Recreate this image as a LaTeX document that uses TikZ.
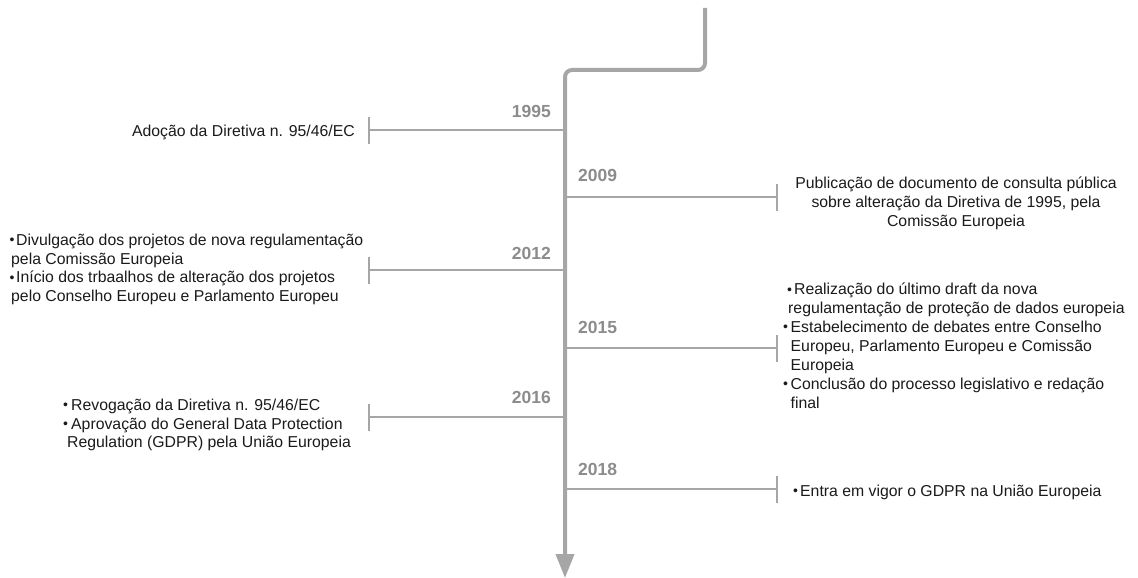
\documentclass[tikz,border=0pt]{standalone}
\usepackage{fontspec}
\setmainfont{Liberation Sans}
\usetikzlibrary{arrows.meta}
\definecolor{linegray}{HTML}{A6A6A6}
\definecolor{yeargray}{HTML}{8C8C8C}
\definecolor{txt}{HTML}{1A1A1A}
\tikzset{
  spine/.style={draw=linegray, line width=4pt},
  branch/.style={draw=linegray, line width=1.6pt},
  tick/.style={draw=linegray, line width=1.3pt},
  year/.style={text=yeargray, font=\fontsize{17.5}{20}\selectfont\bfseries, inner sep=0pt},
  desc/.style={text=txt, font=\fontsize{15.8}{18.6}\selectfont, inner sep=0pt},
}
\newcommand{\bul}[1]{\makebox[#1][l]{\raisebox{0.7pt}{\fontsize{14}{14}\selectfont\textbullet}}}
\begin{document}
\begin{tikzpicture}[x=1pt,y=-1pt]
\useasboundingbox (0,0) rectangle (1138,578);
% spine
\coordinate (top) at (705,8);
\coordinate (c1) at (705,70);
\coordinate (c2) at (565,70);
\coordinate (bot) at (565,578);
\draw[spine, rounded corners=7pt, -{Triangle[width=18pt,length=24pt]}] (top) -- (c1) -- (c2) -- (bot);
% branch coordinates
\foreach \n/\y/\e in {a/130/369, b/197/777, c/270/369, d/348/777, e/417/369, f/489/777}{
  \coordinate (s\n) at (565,\y);
  \coordinate (t\n) at (\e,\y);
  \coordinate (u\n) at (\e,\y-13);
  \coordinate (l\n) at (\e,\y+14);
  \draw[branch] (s\n) -- (t\n);
  \draw[tick] (u\n) -- (l\n);
}
% years
\node[year, anchor=east] (y1995) at (551,111) {1995};
\node[year, anchor=west] (y2009) at (578,175) {2009};
\node[year, anchor=east] (y2012) at (551,253) {2012};
\node[year, anchor=west] (y2015) at (578,327) {2015};
\node[year, anchor=east] (y2016) at (551,397) {2016};
\node[year, anchor=west] (y2018) at (578,469) {2018};
% descriptions
\node[desc, anchor=east] (d1995) at (355,132) {Adoção da Diretiva n. 95/46/EC};
\node[desc, anchor=north, align=center] (d2009) at (956,177) {Publicação de documento de consulta pública\\sobre alteração da Diretiva de 1995, pela\\Comissão Europeia};
\node[desc, anchor=north west, align=left] (d2012) at (9.5,234) {\bul{6.5pt}Divulgação dos projetos de nova regulamentação\\\hspace*{1.5pt}pela Comissão Europeia\\\bul{6.5pt}Início dos trbaalhos de alteração dos projetos\\\hspace*{1.5pt}pelo Conselho Europeu e Parlamento Europeu};
\node[desc, anchor=north west, align=left, font=\fontsize{15.8}{18.9}\selectfont] (d2015) at (783,283) {\hspace*{4pt}\bul{7pt}Realização do último draft da nova\\\hspace*{5pt}regulamentação de proteção de dados europeia\\\bul{7.5pt}Estabelecimento de debates entre Conselho\\\hspace*{7.5pt}Europeu, Parlamento Europeu e Comissão\\\hspace*{7.5pt}Europeia\\\bul{7.5pt}Conclusão do processo legislativo e redação\\\hspace*{7.5pt}final};
\node[desc, anchor=north west, align=left] (d2016) at (63,399) {\bul{8pt}Revogação da Diretiva n. 95/46/EC\\\bul{8pt}Aprovação do General Data Protection\\\hspace*{4pt}Regulation (GDPR) pela União Europeia};
\node[desc, anchor=west] (d2018) at (793,492) {\bul{7pt}Entra em vigor o GDPR na União Europeia};
\end{tikzpicture}
\end{document}
